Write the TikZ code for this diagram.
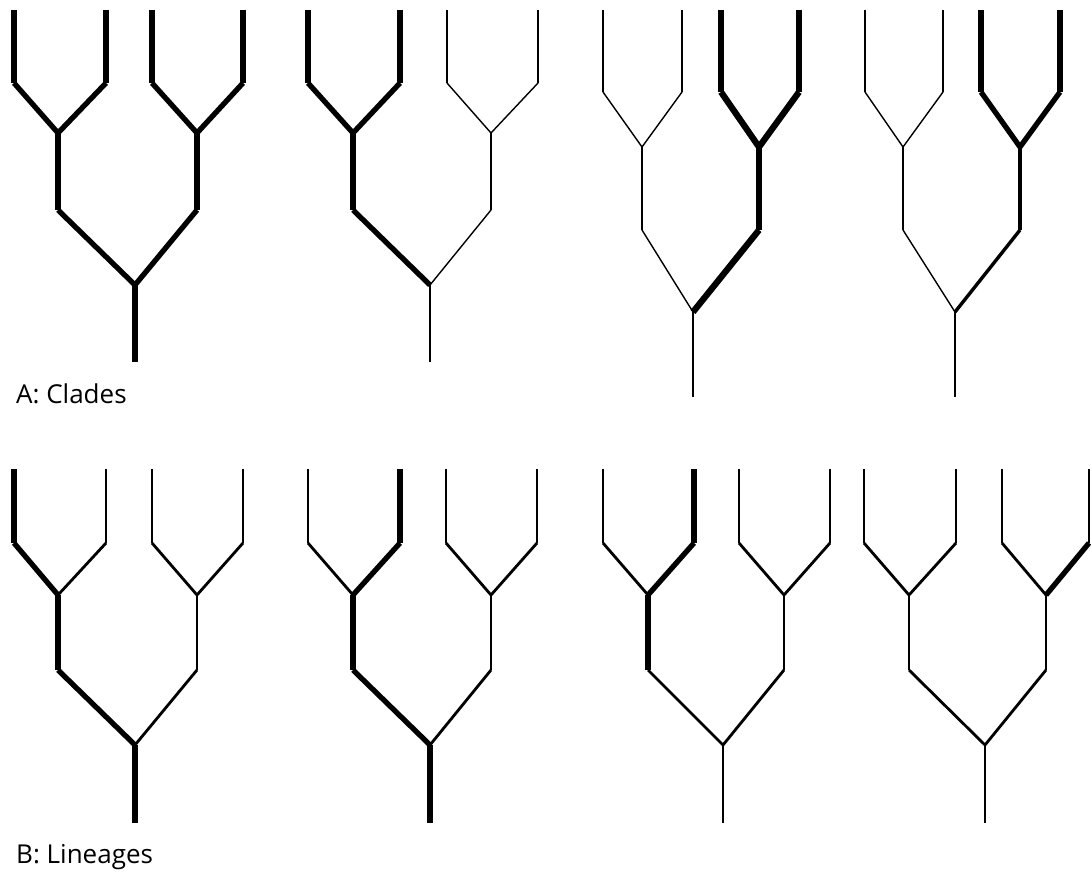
\documentclass[tikz,border=0pt]{standalone}
\usepackage{fontspec}
\setmainfont{Open Sans}
\newcommand\setys[6]{\def\yT{#1}\def\yL{#2}\def\yJ{#3}\def\yM{#4}\def\yR{#5}\def\yB{#6}}
\newcommand\deftree[8]{%
  \coordinate (#1t1) at (#2,\yT); \coordinate (#1b1) at (#2,\yL);
  \coordinate (#1t2) at (#3,\yT); \coordinate (#1b2) at (#3,\yL);
  \coordinate (#1t3) at (#4,\yT); \coordinate (#1b3) at (#4,\yL);
  \coordinate (#1t4) at (#5,\yT); \coordinate (#1b4) at (#5,\yL);
  \coordinate (#1j1) at (#6,\yJ); \coordinate (#1m1) at (#6,\yM);
  \coordinate (#1j2) at (#7,\yJ); \coordinate (#1m2) at (#7,\yM);
  \coordinate (#1r) at (#8,\yR);  \coordinate (#1s) at (#8,\yB);
}
\newcommand\seg[3]{\draw[#1] (#2) -- (#3);}
\tikzset{
  heavy/.style={line width=5.3pt, line cap=butt},
  xheavy/.style={line width=6.3pt, line cap=butt},
  medium/.style={line width=3.4pt, line cap=butt},
  light/.style={line width=1.4pt, line cap=butt},
  bthin/.style={line width=2.8pt, line cap=butt},
  lbl/.style={anchor=base west, inner sep=0pt, font=\fontsize{26}{31}\selectfont}
}
\begin{document}
\begin{tikzpicture}[x=1pt,y=-1pt]
\useasboundingbox (0,0) rectangle (1091,872);
\fill[white] (0,0) rectangle (1091,872);
% ---- row A ----
\setys{10}{83}{133}{210}{285}{362}
\deftree{a1}{14}{106}{152}{243}{58}{197}{135}
\deftree{a2}{308}{400}{447}{538}{353}{491}{430}
\setys{10}{92}{147}{230}{312}{397}
\deftree{a3}{603}{682}{721}{799}{642}{759}{693}
\deftree{a4}{865}{943}{981}{1060}{903}{1020}{955}
% ---- row B ----
\setys{469}{543}{595}{670}{745}{823}
\deftree{b1}{14}{106}{152}{243}{58}{197}{135}
\deftree{b2}{308}{400}{446}{537}{353}{491}{430}
\deftree{b3}{603}{694}{739}{830}{648}{784}{723}
\deftree{b4}{864}{956}{1002}{1089}{909}{1046}{985}

% A1: whole tree
\seg{heavy}{a1t1}{a1b1} \seg{heavy}{a1b1}{a1j1}
\seg{heavy}{a1t2}{a1b2} \seg{heavy}{a1b2}{a1j1}
\seg{heavy}{a1t3}{a1b3} \seg{heavy}{a1b3}{a1j2}
\seg{heavy}{a1t4}{a1b4} \seg{heavy}{a1b4}{a1j2}
\seg{heavy}{a1j1}{a1m1} \seg{heavy}{a1j2}{a1m2}
\seg{heavy}{a1m1}{a1r}  \seg{heavy}{a1m2}{a1r}
\seg{heavy}{a1r}{a1s}

% A2: left clade
\seg{heavy}{a2t1}{a2b1} \seg{heavy}{a2b1}{a2j1}
\seg{heavy}{a2t2}{a2b2} \seg{heavy}{a2b2}{a2j1}
\seg{light}{a2t3}{a2b3} \seg{light}{a2b3}{a2j2}
\seg{light}{a2t4}{a2b4} \seg{light}{a2b4}{a2j2}
\seg{heavy}{a2j1}{a2m1} \seg{light}{a2j2}{a2m2}
\seg{heavy}{a2m1}{a2r}  \seg{light}{a2m2}{a2r}
\seg{light}{a2r}{a2s}

% A3: right clade
\seg{light}{a3t1}{a3b1} \seg{light}{a3b1}{a3j1}
\seg{light}{a3t2}{a3b2} \seg{light}{a3b2}{a3j1}
\seg{xheavy}{a3t3}{a3b3} \seg{xheavy}{a3b3}{a3j2}
\seg{xheavy}{a3t4}{a3b4} \seg{xheavy}{a3b4}{a3j2}
\seg{light}{a3j1}{a3m1} \seg{xheavy}{a3j2}{a3m2}
\seg{light}{a3m1}{a3r}  \seg{xheavy}{a3m2}{a3r}
\seg{light}{a3r}{a3s}

% A4: right pair
\seg{light}{a4t1}{a4b1} \seg{light}{a4b1}{a4j1}
\seg{light}{a4t2}{a4b2} \seg{light}{a4b2}{a4j1}
\seg{xheavy}{a4t3}{a4b3} \seg{heavy}{a4b3}{a4j2}
\seg{xheavy}{a4t4}{a4b4} \seg{heavy}{a4b4}{a4j2}
\seg{light}{a4j1}{a4m1} \seg{medium}{a4j2}{a4m2}
\seg{light}{a4m1}{a4r}  \seg{medium}{a4m2}{a4r}
\seg{light}{a4r}{a4s}

% B1
\seg{heavy}{b1t1}{b1b1} \seg{heavy}{b1b1}{b1j1}
\seg{bthin}{b1t2}{b1b2} \seg{bthin}{b1b2}{b1j1}
\seg{bthin}{b1t3}{b1b3} \seg{bthin}{b1b3}{b1j2}
\seg{bthin}{b1t4}{b1b4} \seg{bthin}{b1b4}{b1j2}
\seg{heavy}{b1j1}{b1m1} \seg{bthin}{b1j2}{b1m2}
\seg{heavy}{b1m1}{b1r}  \seg{bthin}{b1m2}{b1r}
\seg{heavy}{b1r}{b1s}

% B2
\seg{bthin}{b2t1}{b2b1} \seg{bthin}{b2b1}{b2j1}
\seg{heavy}{b2t2}{b2b2} \seg{heavy}{b2b2}{b2j1}
\seg{bthin}{b2t3}{b2b3} \seg{bthin}{b2b3}{b2j2}
\seg{bthin}{b2t4}{b2b4} \seg{bthin}{b2b4}{b2j2}
\seg{heavy}{b2j1}{b2m1} \seg{bthin}{b2j2}{b2m2}
\seg{heavy}{b2m1}{b2r}  \seg{bthin}{b2m2}{b2r}
\seg{heavy}{b2r}{b2s}

% B3
\seg{bthin}{b3t1}{b3b1} \seg{bthin}{b3b1}{b3j1}
\seg{heavy}{b3t2}{b3b2} \seg{heavy}{b3b2}{b3j1}
\seg{bthin}{b3t3}{b3b3} \seg{bthin}{b3b3}{b3j2}
\seg{bthin}{b3t4}{b3b4} \seg{bthin}{b3b4}{b3j2}
\seg{heavy}{b3j1}{b3m1} \seg{bthin}{b3j2}{b3m2}
\seg{bthin}{b3m1}{b3r}  \seg{bthin}{b3m2}{b3r}
\seg{bthin}{b3r}{b3s}

% B4
\seg{bthin}{b4t1}{b4b1} \seg{bthin}{b4b1}{b4j1}
\seg{bthin}{b4t2}{b4b2} \seg{bthin}{b4b2}{b4j1}
\seg{bthin}{b4t3}{b4b3} \seg{bthin}{b4b3}{b4j2}
\seg{bthin}{b4t4}{b4b4} \seg{heavy}{b4b4}{b4j2}
\seg{bthin}{b4j1}{b4m1} \seg{bthin}{b4j2}{b4m2}
\seg{bthin}{b4m1}{b4r}  \seg{bthin}{b4m2}{b4r}
\seg{bthin}{b4r}{b4s}

\node[lbl] (labA) at (16,403) {A: Clades};
\node[lbl] (labB) at (16,863) {B: Lineages};
\end{tikzpicture}
\end{document}
